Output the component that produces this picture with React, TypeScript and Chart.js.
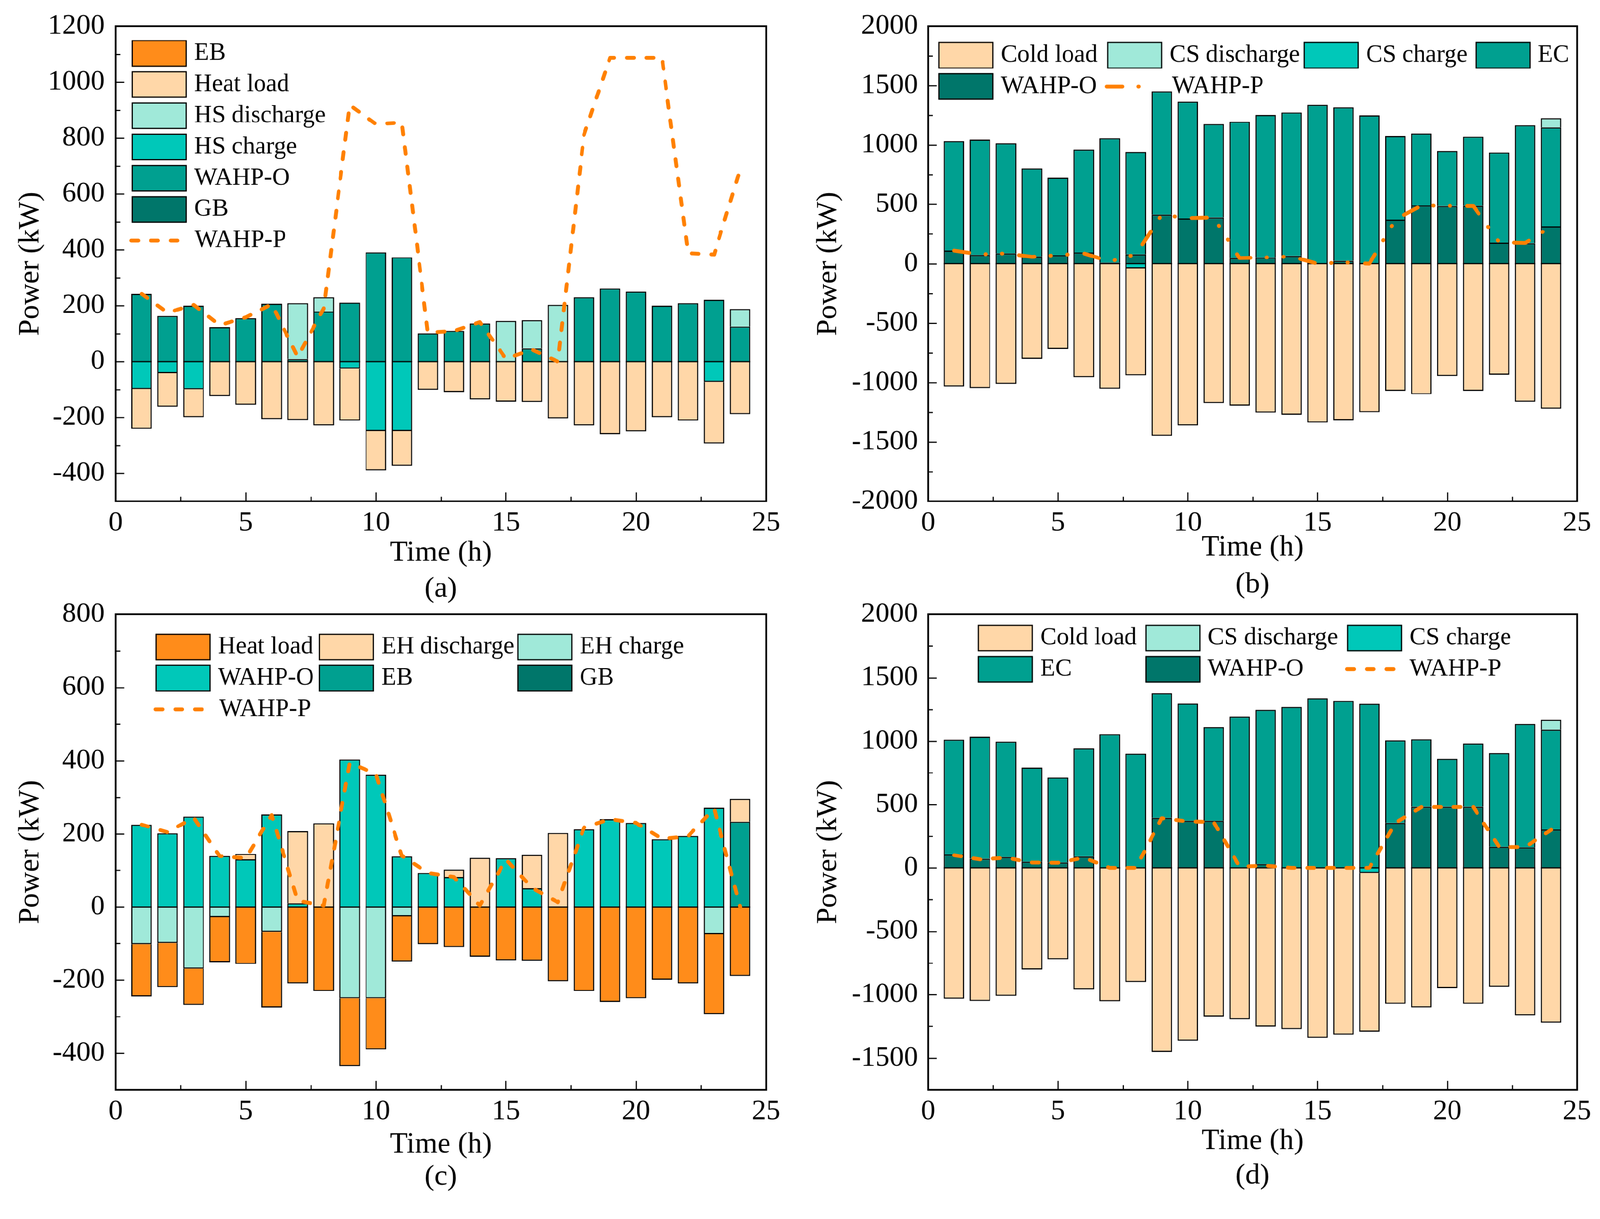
import React, { useEffect, useRef } from "react";
import { Chart, registerables } from "chart.js";

Chart.register(...registerables);

const FONT = '"Liberation Serif", "Times New Roman", serif';
Chart.defaults.font.family = FONT;
Chart.defaults.color = "#000";

// ---------------- data ----------------
const HOURS = [1, 2, 3, 4, 5, 6, 7, 8, 9, 10, 11, 12, 13, 14, 15, 16, 17, 18, 19, 20, 21, 22, 23, 24];
const X_TICKS = [0, 5, 10, 15, 20, 25];
const Y_TICKS_A = [-400, -200, 0, 200, 400, 600, 800, 1000, 1200];
const Y_TICKS_B = [-2000, -1500, -1000, -500, 0, 500, 1000, 1500, 2000];
const Y_TICKS_C = [-400, -200, 0, 200, 400, 600, 800];
const Y_TICKS_D = [-1500, -1000, -500, 0, 500, 1000, 1500, 2000];

// (a) heating, case 1
const A_WAHP_O = [242, 163, 200, 123, 155, 207, 9, 179, 211, 391, 373, 101, 110, 136, 0, 47, 0, 230, 261, 250, 200, 209, 221, 125];
const A_GB = [0, 0, 0, 0, 0, 0, 0, 0, 0, 0, 0, 0, 0, 0, 0, 0, 0, 0, 0, 0, 0, 0, 0, 0];
const A_EB = [0, 0, 0, 0, 0, 0, 0, 0, 0, 0, 0, 0, 0, 0, 0, 0, 0, 0, 0, 0, 0, 0, 0, 0];
const A_HS_DIS = [0, 0, 0, 0, 0, 0, 200, 51, 0, 0, 0, 0, 0, 0, 145, 101, 203, 0, 0, 0, 0, 0, 0, 63];
const A_HS_CHG = [-98, -42, -99, 0, 0, 0, 0, 0, -26, -249, -249, 0, 0, 0, 0, 0, 0, 0, 0, 0, 0, 0, -73, 0];
const A_HEAT = [-143, -120, -100, -124, -155, -206, -209, -229, -185, -140, -124, -101, -109, -136, -144, -145, -203, -229, -260, -250, -199, -211, -220, -188];
const A_WAHP_P = [242, 175, 203, 130, 158, 205, 17, 190, 918, 850, 855, 104, 109, 141, 10, 43, 0, 811, 1087, 1087, 1087, 388, 383, 687];

// (b) cooling, case 1
const B_WAHP_O = [111, 74, 87, 61, 72, 95, 8, 79, 413, 381, 389, 48, 53, 66, 0, 24, 0, 371, 490, 485, 487, 177, 172, 315];
const B_EC = [922, 972, 928, 742, 651, 864, 1049, 861, 1039, 983, 787, 1147, 1200, 1208, 1338, 1293, 1250, 704, 606, 463, 583, 758, 994, 832];
const B_CS_DIS = [0, 0, 0, 0, 0, 0, 0, 0, 0, 0, 0, 0, 0, 0, 0, 0, 0, 0, 0, 0, 0, 0, 0, 79];
const B_CS_CHG = [0, 0, 0, 0, 0, 0, 0, -40, 0, 0, 0, 0, 0, 0, 0, 0, 0, 0, 0, 0, 0, 0, 0, 0];
const B_COLD = [-1033, -1046, -1012, -800, -718, -956, -1052, -900, -1449, -1362, -1174, -1195, -1253, -1271, -1338, -1317, -1250, -1070, -1099, -946, -1070, -935, -1163, -1221];
const B_WAHP_P = [111, 79, 87, 58, 72, 87, 19, 79, 411, 384, 389, 48, 53, 61, 0, 11, 0, 371, 490, 487, 485, 180, 175, 313];

// (c) heating, case 2
const C_WAHP_O = [225, 201, 247, 139, 130, 253, 10, 0, 403, 361, 138, 93, 82, 0, 133, 51, 0, 212, 240, 230, 185, 194, 271, 0];
const C_EB = [0, 0, 0, 0, 0, 0, 0, 0, 0, 0, 0, 0, 0, 0, 0, 0, 0, 0, 0, 0, 0, 0, 0, 233];
const C_GB = [0, 0, 0, 0, 0, 0, 0, 0, 0, 0, 0, 0, 0, 0, 0, 0, 0, 0, 0, 0, 0, 0, 0, 0];
const C_EH_DIS = [0, 0, 0, 0, 15, 0, 197, 229, 0, 0, 0, 0, 20, 134, 0, 91, 202, 0, 0, 0, 0, 0, 0, 63];
const C_EH_CHG = [-102, -99, -169, -28, 0, -68, 0, 0, -250, -250, -26, 0, 0, 0, 0, 0, 0, 0, 0, 0, 0, 0, -74, 0];
const C_HEAT = [-143, -120, -99, -123, -156, -207, -209, -230, -185, -140, -123, -102, -110, -136, -146, -147, -203, -230, -260, -250, -199, -209, -219, -189];
const C_WAHP_P = [225, 204, 244, 139, 133, 251, 17, 4, 394, 364, 140, 93, 82, 4, 130, 52, 13, 217, 240, 230, 186, 193, 269, 0];

// (d) cooling, case 2
const D_WAHP_O = [105, 72, 85, 48, 42, 90, 0, 0, 395, 372, 372, 0, 30, 0, 0, 0, 0, 355, 482, 482, 482, 167, 162, 302];
const D_EC = [907, 963, 912, 744, 670, 852, 1055, 900, 982, 925, 738, 1195, 1217, 1270, 1337, 1317, 1295, 652, 533, 378, 500, 738, 973, 788];
const D_CS_DIS = [0, 0, 0, 0, 0, 0, 0, 0, 0, 0, 0, 0, 0, 0, 0, 0, 0, 0, 0, 0, 0, 0, 0, 77];
const D_CS_CHG = [0, 0, 0, 0, 0, 0, 0, 0, 0, 0, 0, 0, 0, 0, 0, 0, -40, 0, 0, 0, 0, 0, 0, 0];
const D_COLD = [-1032, -1050, -1010, -802, -720, -957, -1052, -900, -1452, -1362, -1172, -1195, -1252, -1272, -1340, -1315, -1252, -1072, -1100, -947, -1072, -937, -1162, -1222];
const D_WAHP_P = [100, 67, 80, 42, 40, 80, 0, 0, 392, 367, 362, 10, 17, 0, 0, 0, 0, 355, 480, 480, 480, 165, 165, 300];

// ---------------- styles ----------------
const PAGE_W = 4155;
const PAGE_H = 3120;
const COL = {
  orange: "#FF8C1A",
  peach: "#FFD7A8",
  mint: "#A0E9D9",
  aqua: "#00C8B9",
  teal: "#00A090",
  dark: "#00766A",
  line: "#FF8000",
};
const DASH_PLAIN = [18, 33];
const DASH_DOTDOT = [40, 42, 1, 42, 1, 44];

const BOX_W = 143;
const BOX_H = 69;
const LINE_LEN = 132;
const TEXT_GAP = 162;

// ---------------- plugins ----------------
const frameTicks = {
  id: "frameTicks",
  afterDraw(chart: any, _args: any, opts: any) {
    const { ctx, chartArea: ca, scales } = chart;
    const xs = scales.x;
    const ys = scales.y;
    ctx.save();
    ctx.strokeStyle = "#000";
    ctx.lineWidth = 3;
    ctx.beginPath();
    const eps = 1e-6;
    for (let v = ys.min + opts.yMinor; v < ys.max - eps; v += opts.yMinor) {
      const p = Math.round(ys.getPixelForValue(v)) + 0.5;
      const r = Math.abs(v % opts.yMajor);
      const major = r < eps || Math.abs(r - opts.yMajor) < eps;
      const len = major ? 23 : 12;
      ctx.moveTo(ca.left, p);
      ctx.lineTo(ca.left + len, p);
    }
    for (let v = 2.5; v < 25 - eps; v += 2.5) {
      const p = Math.round(xs.getPixelForValue(v)) + 0.5;
      const major = Math.abs(v % 5) < eps;
      const len = major ? 23 : 12;
      ctx.moveTo(p, ca.bottom);
      ctx.lineTo(p, ca.bottom - len);
    }
    ctx.stroke();
    ctx.lineWidth = 4.5;
    ctx.strokeRect(ca.left, ca.top, ca.right - ca.left, ca.bottom - ca.top);
    ctx.restore();
  },
};

const zeroLine = {
  id: "zeroLine",
  beforeDatasetDraw(chart: any, args: any) {
    if (args.meta.type !== "line") return;
    const { ctx } = chart;
    const meta = chart.getDatasetMeta(0);
    const y0 = chart.scales.y.getPixelForValue(0);
    ctx.save();
    ctx.fillStyle = "#000";
    meta.data.forEach((el: any) => {
      const { x, width } = el.getProps(["x", "width"], true);
      ctx.fillRect(x - width / 2, y0 - 1.5, width, 3);
    });
    ctx.restore();
  },
};

const gridLegend = {
  id: "gridLegend",
  afterDraw(chart: any, _args: any, opts: any) {
    const items = opts.items || [];
    const { ctx, chartArea } = chart;
    ctx.save();
    ctx.font = `${opts.fontSize}px ${FONT}`;
    ctx.textBaseline = "middle";
    ctx.textAlign = "left";
    for (const it of items) {
      const ds = chart.data.datasets.find((d: any) => d.label === it.label);
      if (!ds) continue;
      const x = chartArea.left + it.x;
      const y = chartArea.top + it.y;
      const cy = y + BOX_H / 2;
      if (ds.type === "line") {
        ctx.save();
        ctx.strokeStyle = ds.borderColor;
        ctx.lineWidth = ds.borderWidth;
        ctx.lineCap = "round";
        ctx.setLineDash(ds.borderDash || []);
        ctx.beginPath();
        ctx.moveTo(x + 5, cy);
        ctx.lineTo(x + LINE_LEN - 5, cy);
        ctx.stroke();
        ctx.restore();
      } else {
        ctx.fillStyle = ds.backgroundColor;
        ctx.fillRect(x, y, BOX_W, BOX_H);
        ctx.strokeStyle = "#000";
        ctx.lineWidth = 3;
        ctx.strokeRect(x + 1.5, y + 1.5, BOX_W - 3, BOX_H - 3);
      }
      ctx.fillStyle = "#000";
      const tx = chartArea.left + (it.tx !== undefined ? it.tx : it.x + TEXT_GAP);
      ctx.fillText(ds.label, tx, cy);
    }
    ctx.restore();
  },
};

const panelLabel = {
  id: "panelLabel",
  afterDraw(chart: any, _args: any, opts: any) {
    if (!opts.text) return;
    const { ctx, chartArea } = chart;
    ctx.save();
    ctx.font = `76px ${FONT}`;
    ctx.fillStyle = "#000";
    ctx.textAlign = "center";
    ctx.textBaseline = "middle";
    ctx.fillText(opts.text, (chartArea.left + chartArea.right) / 2, chartArea.bottom + opts.dy);
    ctx.restore();
  },
};

// ---------------- panels ----------------
type BarSpec = { label: string; data: number[]; color: string };
type LegendItem = { label: string; x: number; y: number; tx?: number };
type PanelSpec = {
  left: number; top: number; width: number; height: number;
  bars: BarSpec[];
  line: { label: string; data: number[]; dash: number[] };
  yMin: number; yMax: number; yTicks: number[]; yMajor: number; yMinor: number;
  padTop: number; padRight: number;
  yAxisWidth: number; yTickPad: number; yTitlePad: number;
  xAxisHeight: number; xTitlePad: number;
  label: string; labelDy: number;
  legend: LegendItem[];
};

const PANELS: PanelSpec[] = [
  {
    left: 0, top: 0, width: 2077, height: 1590,
    bars: [
      { label: "WAHP-O", data: A_WAHP_O, color: COL.teal },
      { label: "GB", data: A_GB, color: COL.dark },
      { label: "EB", data: A_EB, color: COL.orange },
      { label: "HS discharge", data: A_HS_DIS, color: COL.mint },
      { label: "HS charge", data: A_HS_CHG, color: COL.aqua },
      { label: "Heat load", data: A_HEAT, color: COL.peach },
    ],
    line: { label: "WAHP-P", data: A_WAHP_P, dash: DASH_PLAIN },
    yMin: -500, yMax: 1200, yTicks: Y_TICKS_A, yMajor: 200, yMinor: 100,
    padTop: 68, padRight: 88, yAxisWidth: 300, yTickPad: 28, yTitlePad: 33.8,
    xAxisHeight: 289, xTitlePad: 108.4, label: "(a)", labelDy: 228,
    legend: [
      { label: "EB", x: 42, y: 36 },
      { label: "Heat load", x: 42, y: 117 },
      { label: "HS discharge", x: 42, y: 198 },
      { label: "HS charge", x: 42, y: 279 },
      { label: "WAHP-O", x: 42, y: 360 },
      { label: "GB", x: 42, y: 441 },
      { label: "WAHP-P", x: 36, y: 522, tx: 205 },
    ],
  },
  {
    left: 2077, top: 0, width: 2078, height: 1590,
    bars: [
      { label: "WAHP-O", data: B_WAHP_O, color: COL.dark },
      { label: "EC", data: B_EC, color: COL.teal },
      { label: "CS discharge", data: B_CS_DIS, color: COL.mint },
      { label: "CS charge", data: B_CS_CHG, color: COL.aqua },
      { label: "Cold load", data: B_COLD, color: COL.peach },
    ],
    line: { label: "WAHP-P", data: B_WAHP_P, dash: DASH_DOTDOT },
    yMin: -2000, yMax: 2000, yTicks: Y_TICKS_B, yMajor: 500, yMinor: 250,
    padTop: 68, padRight: 60, yAxisWidth: 333, yTickPad: 26, yTitlePad: 28.8,
    xAxisHeight: 289, xTitlePad: 122.4, label: "(b)", labelDy: 217,
    legend: [
      { label: "Cold load", x: 27, y: 41 },
      { label: "CS discharge", x: 465, y: 41 },
      { label: "CS charge", x: 975, y: 41 },
      { label: "EC", x: 1421, y: 41 },
      { label: "WAHP-O", x: 27, y: 122 },
      { label: "WAHP-P", x: 459, y: 122, tx: 633 },
    ],
  },
  {
    left: 0, top: 1530, width: 2077, height: 1590,
    bars: [
      { label: "WAHP-O", data: C_WAHP_O, color: COL.aqua },
      { label: "EB", data: C_EB, color: COL.teal },
      { label: "GB", data: C_GB, color: COL.dark },
      { label: "EH discharge", data: C_EH_DIS, color: COL.peach },
      { label: "EH charge", data: C_EH_CHG, color: COL.mint },
      { label: "Heat load", data: C_HEAT, color: COL.orange },
    ],
    line: { label: "WAHP-P", data: C_WAHP_P, dash: DASH_PLAIN },
    yMin: -500, yMax: 800, yTicks: Y_TICKS_C, yMajor: 200, yMinor: 100,
    padTop: 65, padRight: 88, yAxisWidth: 300, yTickPad: 28, yTitlePad: 33.8,
    xAxisHeight: 291, xTitlePad: 102.4, label: "(c)", labelDy: 227,
    legend: [
      { label: "Heat load", x: 104, y: 50 },
      { label: "EH discharge", x: 528, y: 50 },
      { label: "EH charge", x: 1043, y: 50 },
      { label: "WAHP-O", x: 104, y: 131 },
      { label: "EB", x: 528, y: 131 },
      { label: "GB", x: 1043, y: 131 },
      { label: "WAHP-P", x: 99, y: 212, tx: 269 },
    ],
  },
  {
    left: 2077, top: 1530, width: 2078, height: 1590,
    bars: [
      { label: "WAHP-O", data: D_WAHP_O, color: COL.dark },
      { label: "EC", data: D_EC, color: COL.teal },
      { label: "CS discharge", data: D_CS_DIS, color: COL.mint },
      { label: "CS charge", data: D_CS_CHG, color: COL.aqua },
      { label: "Cold load", data: D_COLD, color: COL.peach },
    ],
    line: { label: "WAHP-P", data: D_WAHP_P, dash: DASH_PLAIN },
    yMin: -1750, yMax: 2000, yTicks: Y_TICKS_D, yMajor: 500, yMinor: 250,
    padTop: 65, padRight: 60, yAxisWidth: 333, yTickPad: 26, yTitlePad: 28.8,
    xAxisHeight: 291, xTitlePad: 111.4, label: "(d)", labelDy: 224,
    legend: [
      { label: "Cold load", x: 129, y: 27 },
      { label: "CS discharge", x: 564, y: 27 },
      { label: "CS charge", x: 1088, y: 27 },
      { label: "EC", x: 129, y: 108 },
      { label: "WAHP-O", x: 564, y: 108 },
      { label: "WAHP-P", x: 1083, y: 108, tx: 1250 },
    ],
  },
];

function makeConfig(p: PanelSpec, pixelRatio: number): any {
  const barSets = p.bars.map((b) => ({
    type: "bar",
    label: b.label,
    data: b.data,
    backgroundColor: b.color,
    borderColor: "#000",
    borderWidth: 3,
    borderSkipped: "start",
    inflateAmount: 0,
    stack: "power",
    barPercentage: 0.79,
    categoryPercentage: 1,
    order: 0,
  }));
  const lineSet = {
    type: "line",
    label: p.line.label,
    data: p.line.data,
    borderColor: COL.line,
    backgroundColor: COL.line,
    borderWidth: 10,
    borderDash: p.line.dash,
    borderCapStyle: "round",
    borderJoinStyle: "round",
    pointRadius: 0,
    pointHoverRadius: 0,
    fill: false,
    tension: 0,
    stack: "wahp-p",
    order: -1,
  };
  return {
    type: "bar",
    data: { labels: HOURS, datasets: [...barSets, lineSet] },
    options: {
      responsive: false,
      maintainAspectRatio: false,
      animation: false,
      devicePixelRatio: pixelRatio,
      events: [],
      layout: { padding: { left: 0, top: p.padTop, right: p.padRight, bottom: 0 } },
      plugins: {
        legend: { display: false },
        tooltip: { enabled: false },
        gridLegend: { items: p.legend, fontSize: 64 },
        panelLabel: { text: p.label, dy: p.labelDy },
        frameTicks: { yMinor: p.yMinor, yMajor: p.yMajor },
      },
      scales: {
        x: {
          type: "linear",
          min: 0,
          max: 25,
          stacked: true,
          offset: false,
          grid: { display: false, drawTicks: false, offset: false },
          border: { display: false },
          ticks: {
            padding: 13,
            font: { size: 74, family: FONT },
            color: "#000",
            maxRotation: 0,
            autoSkip: false,
            callback: (v: any) => String(v),
          },
          afterBuildTicks: (s: any) => {
            s.ticks = X_TICKS.map((v) => ({ value: v }));
          },
          title: {
            display: true,
            text: "Time (h)",
            font: { size: 76, family: FONT },
            color: "#000",
            padding: { top: 0, bottom: p.xTitlePad },
          },
          afterFit: (s: any) => {
            s.height = p.xAxisHeight;
            s.paddingLeft = 0;
            s.paddingRight = 0;
          },
        },
        y: {
          type: "linear",
          min: p.yMin,
          max: p.yMax,
          stacked: true,
          grid: { display: false, drawTicks: false },
          border: { display: false },
          ticks: {
            padding: p.yTickPad,
            font: { size: 74, family: FONT },
            color: "#000",
            autoSkip: false,
            callback: (v: any) => String(v),
          },
          afterBuildTicks: (s: any) => {
            s.ticks = p.yTicks.map((v) => ({ value: v }));
          },
          title: {
            display: true,
            text: "Power (kW)",
            font: { size: 76, family: FONT },
            color: "#000",
            padding: { top: p.yTitlePad, bottom: 0 },
          },
          afterFit: (s: any) => {
            s.width = p.yAxisWidth;
            s.paddingTop = 0;
            s.paddingBottom = 0;
          },
        },
      },
    },
    plugins: [frameTicks, zeroLine, gridLegend, panelLabel],
  };
}

function Panel({ spec, pixelRatio }: { spec: PanelSpec; pixelRatio: number }) {
  const ref = useRef<HTMLCanvasElement>(null);
  useEffect(() => {
    if (!ref.current) return;
    const chart = new Chart(ref.current, makeConfig(spec, pixelRatio));
    return () => chart.destroy();
  }, [spec, pixelRatio]);
  return (
    <canvas
      ref={ref}
      width={spec.width}
      height={spec.height}
      style={{
        position: "absolute",
        left: spec.left,
        top: spec.top,
        width: spec.width,
        height: spec.height,
      }}
    />
  );
}

export default function App() {
  const vw = typeof window !== "undefined" ? window.innerWidth : PAGE_W;
  const vh = typeof window !== "undefined" ? window.innerHeight : PAGE_H;
  const scale = Math.min(vw / PAGE_W, vh / PAGE_H);
  const dpr = typeof window !== "undefined" ? window.devicePixelRatio || 1 : 1;
  const pixelRatio = scale * dpr;
  return (
    <div
      style={{
        position: "fixed",
        left: 0,
        top: 0,
        width: PAGE_W,
        height: PAGE_H,
        background: "#fff",
        overflow: "hidden",
        transform: `scale(${scale})`,
        transformOrigin: "0 0",
      }}
    >
      {PANELS.map((p, i) => (
        <Panel key={i} spec={p} pixelRatio={pixelRatio} />
      ))}
    </div>
  );
}
